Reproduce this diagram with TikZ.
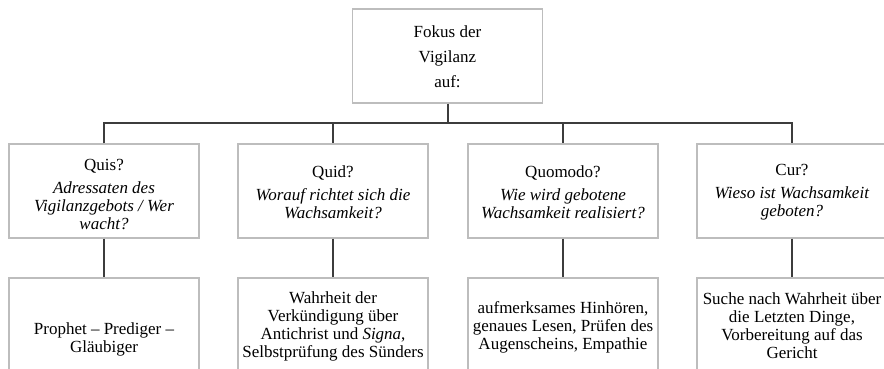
\documentclass[tikz,border=0pt]{standalone}
\usepackage{fontspec}
\setmainfont{Liberation Serif}
\definecolor{boxgray}{HTML}{BDBDBD}
\definecolor{conngray}{HTML}{3C3C3C}
\begin{document}
\begin{tikzpicture}[x=1pt,y=-1pt,
  box/.style={draw=boxgray, line width=1.1pt, inner sep=0pt, minimum width=190pt},
  txt/.style={align=center, inner sep=0pt, font=\fontsize{17}{18}\selectfont},
  conn/.style={draw=conngray, line width=2pt, line join=miter}]
\useasboundingbox (0,0) rectangle (884,368);
\clip (0,0) rectangle (884,368);
% top
\node[box, minimum height=94pt] (top) at (447.5,56) {};
\node[txt, font=\fontsize{17}{25}\selectfont] (toptxt) at (447.5,57) {Fokus der\\Vigilanz\\auf:};
% middle boxes
\node[box, minimum height=94pt] (m1) at (104,191) {};
\node[box, minimum height=94pt] (m2) at (333,191) {};
\node[box, minimum height=94pt] (m3) at (563,191) {};
\node[box, minimum height=94pt] (m4) at (792,191) {};
\node[txt] (m1t) at (104,194) {Quis?\\[5pt]\textit{Adressaten des}\\\textit{Vigilanzgebots / Wer}\\\textit{wacht?}};
\node[txt] (m2t) at (333,192) {Quid?\\[5pt]\textit{Worauf richtet sich die}\\\textit{Wachsamkeit?}};
\node[txt] (m3t) at (563,192) {Quomodo?\\[5pt]\textit{Wie wird gebotene}\\\textit{Wachsamkeit realisiert?}};
\node[txt] (m4t) at (792,192) {Cur?\\[5pt]\textit{Wieso ist Wachsamkeit}\\\textit{geboten?}};
% bottom boxes
\node[box, minimum height=110pt] (b1) at (104,333) {};
\node[box, minimum height=110pt] (b2) at (333,333) {};
\node[box, minimum height=110pt] (b3) at (563,333) {};
\node[box, minimum height=110pt] (b4) at (792,333) {};
\node[txt] (b1t) at (104,339) {Prophet -- Prediger --\\Gläubiger};
\node[txt] (b2t) at (333,326) {Wahrheit der\\Verkündigung über\\Antichrist und \textit{Signa},\\Selbstprüfung des Sünders};
\node[txt] (b3t) at (563,327) {aufmerksames Hinhören,\\genaues Lesen, Prüfen des\\Augenscheins, Empathie};
\node[txt] (b4t) at (792,326) {Suche nach Wahrheit über\\die Letzten Dinge,\\Vorbereitung auf das\\Gericht};
% connectors
\coordinate (j) at (447.5,123);
\draw[conn] (top.south) -- (j);
\draw[conn] (m1.north) -- (m1.north |- j) -- (m4.north |- j) -- (m4.north);
\draw[conn] (m2.north |- j) -- (m2.north);
\draw[conn] (m3.north |- j) -- (m3.north);
\draw[conn] (m1.south) -- (b1.north);
\draw[conn] (m2.south) -- (b2.north);
\draw[conn] (m3.south) -- (b3.north);
\draw[conn] (m4.south) -- (b4.north);
\end{tikzpicture}
\end{document}
